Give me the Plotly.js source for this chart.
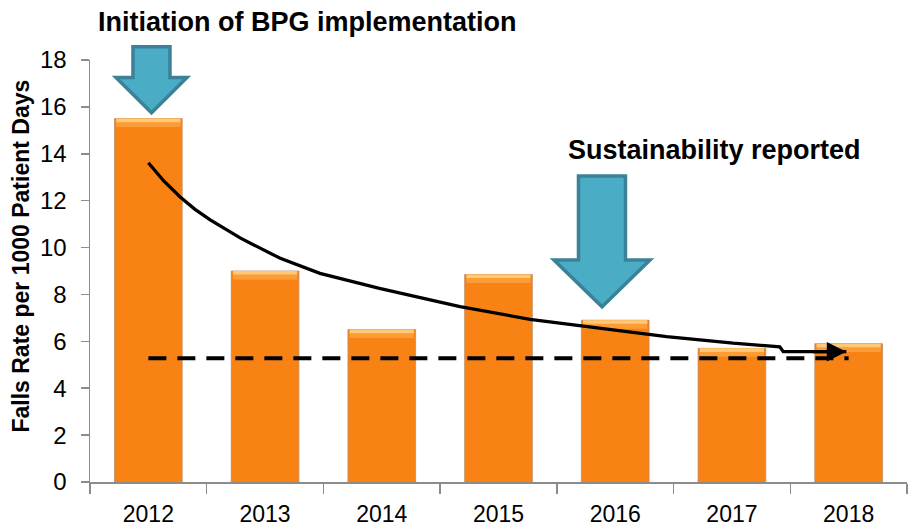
<!DOCTYPE html>
<html>
<head>
<meta charset="utf-8">
<script src="https://cdn.plot.ly/plotly-3.0.1.min.js"></script>
<style>html,body{margin:0;padding:0;background:#fff}#chart{width:913px;height:529px}</style>
</head>
<body>
<div id="chart"></div>
<script>
// ---- data ----
const years = [2012, 2013, 2014, 2015, 2016, 2017, 2018];
const yearLabels = ["2012", "2013", "2014", "2015", "2016", "2017", "2018"];
const fallsRate = [15.5, 9.0, 6.5, 8.85, 6.9, 5.7, 5.9];
// hand-drawn trend curve
const trendX = [2012.0, 2012.13, 2012.27, 2012.40, 2012.53, 2012.79, 2013.13, 2013.47, 2013.98, 2014.67, 2015.27, 2016.04, 2016.44, 2017.01, 2017.41, 2017.44, 2017.98];
const trendY = [13.62, 12.85, 12.17, 11.63, 11.18, 10.40, 9.54, 8.90, 8.26, 7.48, 6.94, 6.46, 6.20, 5.92, 5.77, 5.56, 5.56];
// target (dashed) line
const targetX = [2012.0, 2018.0];
const targetY = [5.28, 5.28];
const yTicks = [0, 2, 4, 6, 8, 10, 12, 14, 16, 18];

// ---- layout helpers ----
const L = 90, R = 907, T = 60, B = 482;
function P(px, py) { return ((px - L) / (R - L)).toFixed(4) + "," + ((B - py) / (B - T)).toFixed(4); }
function arrowPath(cx, halfShaft, halfHead, top, headBase, tip) {
  return "M" + P(cx - halfShaft, top) + " L" + P(cx + halfShaft, top) + " L" + P(cx + halfShaft, headBase) +
    " L" + P(cx + halfHead, headBase) + " L" + P(cx, tip) + " L" + P(cx - halfHead, headBase) +
    " L" + P(cx - halfShaft, headBase) + " Z";
}

const barWidth = 0.58;
const bevel1 = fallsRate.map(() => 0.36);
const bevel1Base = fallsRate.map(v => v - 0.36);
const bevel2 = fallsRate.map(() => 0.15);
const bevel2Base = fallsRate.map(v => v - 0.15);

const traces = [
  { type: "bar", x: years, y: fallsRate, width: barWidth,
    marker: { color: "#F98214", line: { color: "rgba(190,140,100,0.8)", width: 1 } },
    hoverinfo: "x+y", showlegend: false },
  { type: "bar", x: years, y: bevel1, base: bevel1Base, width: barWidth - 0.03,
    marker: { color: "#FB9C36", line: { width: 0 } }, hoverinfo: "skip", showlegend: false },
  { type: "bar", x: years, y: bevel2, base: bevel2Base, width: barWidth - 0.03,
    marker: { color: "#FEC878", line: { width: 0 } }, hoverinfo: "skip", showlegend: false },
  { type: "scatter", mode: "lines", x: targetX, y: targetY,
    line: { color: "#000", width: 4, dash: "18px,11px" }, hoverinfo: "skip", showlegend: false },
  { type: "scatter", mode: "lines", x: trendX, y: trendY,
    line: { color: "#000", width: 3.3, shape: "linear" }, hoverinfo: "skip", showlegend: false }
];

const teal = "#4BACC6", tealDark = "#3A8298";
const layout = {
  width: 913, height: 529,
  margin: { l: L, r: 913 - R, t: T, b: 529 - B },
  paper_bgcolor: "#fff", plot_bgcolor: "#fff",
  barmode: "overlay",
  font: { family: "Liberation Sans, Arial, sans-serif", color: "#000" },
  xaxis: {
    type: "linear", range: [2011.5, 2018.5],
    tickmode: "array", tickvals: years, ticktext: yearLabels,
    ticks: "outside", ticklen: 10, tickcolor: "rgba(0,0,0,0)",
    tickfont: { size: 23, color: "#000" },
    ticklabelstandoff: 1,
    showline: true, linecolor: "#8C8C8C", linewidth: 1.5,
    showgrid: false, zeroline: false,
    minor: { tick0: 2011.5, dtick: 1, ticks: "outside", ticklen: 10, tickcolor: "#8C8C8C", tickwidth: 1.5, showgrid: false }
  },
  yaxis: {
    range: [0, 18], tickmode: "array", tickvals: yTicks,
    ticks: "outside", ticklen: 8, tickcolor: "#8C8C8C", tickwidth: 1.5,
    tickfont: { size: 24, color: "#000" },
    ticklabelstandoff: 9,
    showline: true, linecolor: "#8C8C8C", linewidth: 1.5,
    showgrid: false, zeroline: false
  },
  shapes: [
    { type: "path", xref: "paper", yref: "paper", layer: "above",
      path: arrowPath(151.5, 18.5, 35.5, 46.7, 77.5, 112.7),
      fillcolor: teal, line: { color: tealDark, width: 3.5 } },
    { type: "path", xref: "paper", yref: "paper", layer: "above",
      path: arrowPath(602, 23.5, 48, 176, 260, 306.7),
      fillcolor: teal, line: { color: tealDark, width: 3.5 } }
  ],
  annotations: [
    { xref: "paper", yref: "paper", x: -0.085, y: 0.5355, text: "Falls Rate per 1000 Patient Days",
      textangle: -90, showarrow: false, xanchor: "center", yanchor: "middle",
      font: { family: "Liberation Sans, Arial, sans-serif", size: 23, color: "#000", weight: "bold" } },
    { xref: "paper", yref: "paper", x: (307 - L) / (R - L), y: (B - 22) / (B - T),
      text: "Initiation of BPG implementation", showarrow: false, xanchor: "center", yanchor: "middle",
      font: { family: "Liberation Sans, Arial, sans-serif", size: 27, color: "#000", weight: "bold" } },
    { xref: "paper", yref: "paper", x: (714.5 - L) / (R - L), y: (B - 150) / (B - T),
      text: "Sustainability reported", showarrow: false, xanchor: "center", yanchor: "middle",
      font: { family: "Liberation Sans, Arial, sans-serif", size: 27, color: "#000", weight: "bold" } },
    { xref: "x", yref: "y", axref: "x", ayref: "y",
      x: trendX[trendX.length - 1], y: trendY[trendY.length - 1],
      ax: trendX[trendX.length - 1] - 0.3, ay: trendY[trendY.length - 1],
      text: "", showarrow: true, arrowhead: 2, arrowsize: 1.3, arrowwidth: 3, arrowcolor: "#000" }
  ]
};

Plotly.newPlot("chart", traces, layout, { displayModeBar: false, staticPlot: true });
</script>
</body>
</html>
